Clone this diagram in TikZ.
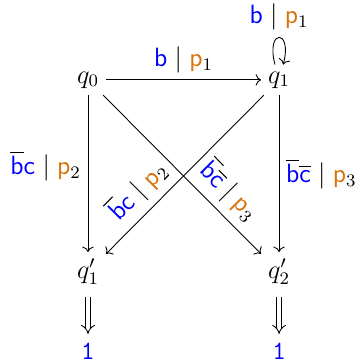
\documentclass[tikz,border=0pt]{standalone}
\usepackage{amsmath}
\usetikzlibrary{arrows.meta, positioning}
\definecolor{LetterBlue}{HTML}{0000FF}
\definecolor{ProbOrange}{HTML}{D9730D}
\newcommand{\letb}{\textcolor{LetterBlue}{\mathsf{b}}}
\newcommand{\letc}{\textcolor{LetterBlue}{\mathsf{c}}}
\newcommand{\prob}[1]{\textcolor{ProbOrange}{\mathsf{p}}_{#1}}
\tikzset{
  state/.style={inner sep=3pt, font=\large},
  final/.style={inner sep=3pt, text=LetterBlue, font=\large},
  arrow/.style={->},
  implies/.style={double, double distance=1.8pt, -{Implies}, shorten <=2.5pt, shorten >=1pt},
  lbl/.style={inner sep=3pt, font=\large}
}
\begin{document}
\begin{tikzpicture}
\useasboundingbox (0,0) rectangle (5.67,5.78);

\node[state] (q0) at (1.405,4.504) {$q_0$};
\node[state] (q1) at (4.456,4.504) {$q_1$};
\node[state] (q1p) at (1.405,1.437) {$q_1'$};
\node[state] (q2p) at (4.456,1.437) {$q_2'$};
\node[final] (one1) at (1.405,0.17) {$\mathtt{1}$};
\node[final] (one2) at (4.456,0.17) {$\mathtt{1}$};

\draw[arrow] (q0) -- node[lbl, above] {$\letb \mid \prob{1}$} (q1);
\draw[arrow] (q1) to[loop above, min distance=6mm] node[lbl, above] {$\letb \mid \prob{1}$} (q1);
\draw[arrow] (q0) -- node[lbl, left, pos=0.45] {$\overline{\letb}\letc \mid \prob{2}$} (q1p);
\draw[arrow] (q1) -- node[lbl, right] {$\overline{\letb}\overline{\letc} \mid \prob{3}$} (q2p);
\draw[arrow] (q1) -- node[lbl, above, sloped, pos=0.7] {$\overline{\letb}\letc \mid \prob{2}$} (q1p);
\draw[arrow] (q0) -- node[lbl, above, sloped, pos=0.7] {$\overline{\letb}\overline{\letc} \mid \prob{3}$} (q2p);
\draw[implies] (q1p) -- (one1);
\draw[implies] (q2p) -- (one2);
\end{tikzpicture}
\end{document}
